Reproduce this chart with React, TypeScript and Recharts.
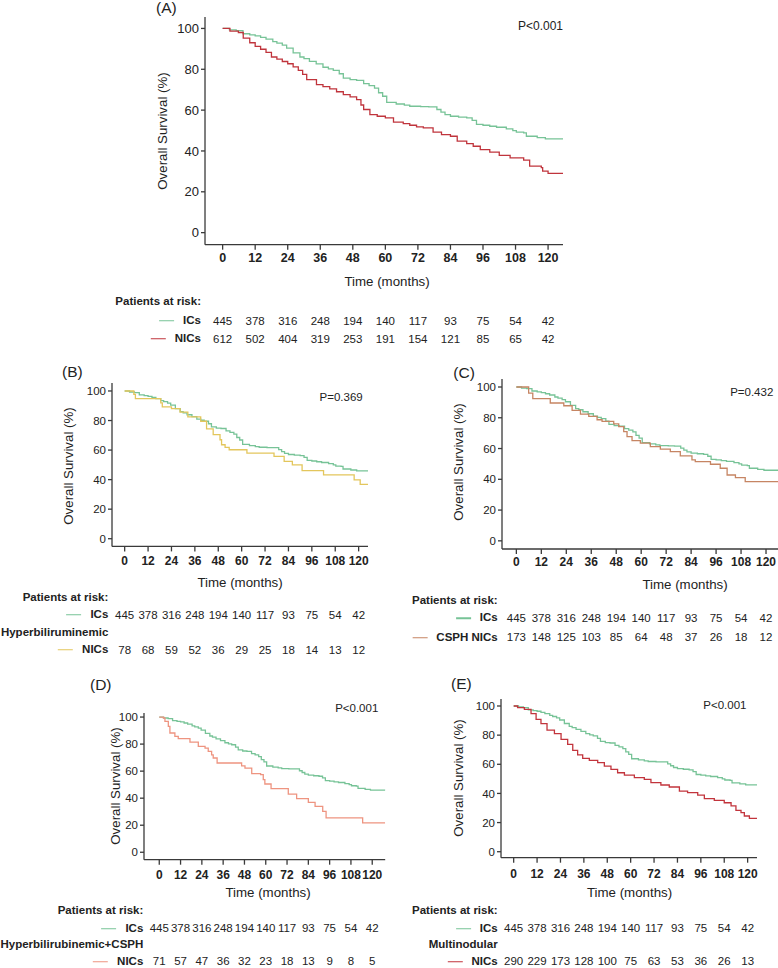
import React from "react";
import { LineChart, Line, XAxis, YAxis } from "recharts";

// x ticks (months) and y ticks (%)
const monthTicks = [0, 12, 24, 36, 48, 60, 72, 84, 96, 108, 120];
const survivalTicks = [0, 20, 40, 60, 80, 100];

// ICs (same group in every panel)
const icsMonths = [0, 2.5, 5, 7.5, 10, 12, 14, 16, 18.5, 20, 22, 23.6, 26, 28.5, 30, 32, 34.5, 37, 39, 40.8, 43, 44.5, 47, 49.4, 52, 54, 56, 57.5, 59, 60.5, 64, 67, 69, 73, 76, 79, 80.5, 82, 84, 87, 90, 92, 93.6, 96, 98.5, 101, 104.6, 107, 108.3, 111, 112, 116, 119, 127.3];
const icsSurvival = [100, 99.3, 98.9, 97.4, 96.8, 96.4, 95.6, 94.8, 93.5, 92.8, 91.8, 90.4, 88, 86, 85.2, 83.9, 82.6, 81, 80.2, 79.5, 77.8, 75.7, 74.9, 74.6, 73, 72, 70.8, 68.5, 66.8, 63.8, 63, 62.4, 61.9, 61.7, 61.6, 60.3, 59, 57.8, 57, 56.6, 56.2, 55, 53, 52.6, 52.1, 51.6, 50.8, 50, 49.2, 48.9, 47.2, 46.5, 45.9, 45.6];

// (A) NICs
const nicsMonths = [0, 2.7, 5.8, 7.6, 10, 12, 14, 16, 18, 20, 22, 24, 26, 27.9, 29.5, 31, 34.6, 37, 39.5, 42, 44.5, 47, 49.4, 51, 52, 54.3, 57, 60, 63, 66.6, 69, 71.5, 74, 77.6, 80.7, 84, 86.5, 90, 92.4, 95, 98.5, 102, 106, 111, 113.2, 117.5, 118, 120, 125.5];
const nicsSurvival = [100, 98.7, 98, 95.3, 93, 91.2, 89.8, 88.3, 86, 85, 83.8, 82.7, 81.2, 79.5, 77.5, 74.9, 72.5, 71.5, 70.4, 69, 67.6, 66.5, 65.1, 62.5, 60.3, 57.8, 57, 56.2, 54.1, 53.4, 52.6, 51.8, 51.3, 49.2, 48, 47.2, 44.8, 43.6, 42.3, 40.7, 39.4, 37.8, 36.6, 35.5, 32.6, 31.8, 30.1, 29, 29];

// (B) Hyperbiliruminemic NICs
const hyperMonths = [0, 4.7, 5.5, 18.5, 19.3, 24, 28.4, 32.4, 39, 42, 45.4, 48.9, 49.7, 51.5, 53.6, 62.7, 76.6, 81.8, 86, 91, 102, 117.7, 120.8, 124.8];
const hyperSurvival = [100, 97.7, 94.8, 92, 89.3, 88, 85.7, 82.5, 79.5, 74.3, 70.5, 67, 63.6, 61.8, 60.2, 58, 55.7, 52.3, 50, 46.1, 43.2, 39.8, 36.8, 36.8];

// (C) CSPH NICs
const csphMonths = [0, 5.9, 7.9, 16.3, 22.8, 26.8, 30.8, 34.8, 38.8, 41.2, 46.8, 49.2, 51.6, 53.2, 55.6, 59.6, 64.4, 69.2, 74, 78.8, 84.4, 86, 93.3, 98, 101.3, 105.3, 110, 127];
const csphSurvival = [100, 96, 92.4, 89.6, 87.8, 84.8, 82.4, 80.9, 78.7, 77.6, 76, 74.3, 71, 67.8, 65.2, 63.5, 61.3, 59.6, 58, 55.2, 52.6, 51.5, 49.8, 47.2, 42.8, 41.1, 38.5, 38.5];

// (D) Hyperbilirubinemic+CSPH NICs
const hcMonths = [0, 2.3, 3.2, 5.1, 6, 8.8, 10.7, 17.3, 22, 25.8, 27.6, 29.5, 30.4, 32.6, 46.4, 48.3, 52.1, 57.1, 58.6, 59.5, 63, 72.7, 77.4, 84, 87.8, 92.1, 94, 114.6, 127.3];
const hcSurvival = [100, 99.3, 96.8, 93.1, 88.2, 85.7, 84, 81.5, 78.3, 77, 74.6, 72, 69.7, 66, 63.9, 62.2, 58.1, 57.4, 53.7, 50.5, 47, 43, 39.7, 36.9, 34, 30.3, 25.4, 21.7, 21.7];

// (E) Multinodular NICs
const multiMonths = [0, 2, 5.5, 8.9, 11.5, 14, 17.1, 20.9, 24.3, 27.7, 30.3, 32.8, 35.4, 38.8, 43.1, 46.5, 49.9, 53.3, 56.8, 61.9, 67, 70.4, 75.5, 79.8, 85, 89.2, 94.4, 97.8, 102.9, 108, 111.5, 114, 116.6, 118.3, 120.9, 124.8];
const multiSurvival = [100, 98.9, 97.7, 94.7, 90.8, 87.9, 83.5, 81, 77.1, 73.7, 69.6, 66.4, 64.1, 62.7, 61.1, 58.8, 56.5, 54.2, 52.6, 50.8, 49.7, 47.4, 45.8, 44.4, 41.6, 40.5, 38.9, 36.4, 35.2, 33.6, 31.4, 28.4, 26.8, 24.5, 22.9, 22.9];

// patients at risk
const riskIcs = [445, 378, 316, 248, 194, 140, 117, 93, 75, 54, 42];
const riskNics = [612, 502, 404, 319, 253, 191, 154, 121, 85, 65, 42];
const riskHyper = [78, 68, 59, 52, 36, 29, 25, 18, 14, 13, 12];
const riskCsph = [173, 148, 125, 103, 85, 64, 48, 37, 26, 18, 12];
const riskHc = [71, 57, 47, 36, 32, 23, 18, 13, 9, 8, 5];
const riskMulti = [290, 229, 173, 128, 100, 75, 63, 53, 36, 26, 13];

const panelTitles = ["(A)", "(B)", "(C)", "(D)", "(E)"];
const pValues = ["P<0.001", "P=0.369", "P=0.432", "P<0.001", "P<0.001"];
const groupNames = ["", "Hyperbiliruminemic", "", "Hyperbilirubinemic+CSPH", "Multinodular"];
const nicsLabels = ["NICs", "NICs", "CSPH NICs", "NICs", "NICs"];

const FONT = "'Liberation Sans', Arial, Helvetica, sans-serif";
const INK = "#222";
const AXIS = "#3a3a3a";
const GREEN = "#77c397";
const colors = ["#c0343c", "#e3c65c", "#c68563", "#ee9480", "#c2343c"];

const toPoints = (m: number[], s: number[]) => m.map((t, i) => ({ t, s: s[i] }));

const icsPoints = toPoints(icsMonths, icsSurvival);
const nicsSeries = [
  toPoints(nicsMonths, nicsSurvival),
  toPoints(hyperMonths, hyperSurvival),
  toPoints(csphMonths, csphSurvival),
  toPoints(hcMonths, hcSurvival),
  toPoints(multiMonths, multiSurvival),
];
const nicsRisk = [riskNics, riskHyper, riskCsph, riskHc, riskMulti];

type Layout = {
  plot: { l: number; t: number; r: number; b: number };
  xDomain: [number, number];
  yDomain: [number, number];
  big: boolean;
  title: [number, number];
  p: [number, number];
  yLabel: [number, number];
  xLabel: [number, number];
  labelRight: number;
  header: number;
  group: number;
  icsDy: number;
  nicsDy: number;
  tickDy: number;
};

const layouts: Layout[] = [
  { plot: { l: 205, t: 17.3, r: 563, b: 245 }, xDomain: [-6.5, 125.5], yDomain: [-5.9, 105.6], big: true,
    title: [156, 7.5], p: [563, 26], yLabel: [162.5, 131], xLabel: [387, 281.5], labelRight: 201, header: 302, group: 0, icsDy: 76, nicsDy: 94, tickDy: 13 },
  { plot: { l: 111.7, t: 383.3, r: 367.7, b: 546.7 }, xDomain: [-6.5, 124.8], yDomain: [-5.2, 105.4], big: false,
    title: [62, 371.7], p: [362.7, 398.3], yLabel: [69, 466], xLabel: [240, 583.3], labelRight: 108.3, header: 598.3, group: 632.7, icsDy: 68.3, nicsDy: 103.3, tickDy: 14.3 },
  { plot: { l: 501.7, t: 379.3, r: 778, b: 549.3 }, xDomain: [-6.9, 125.9], yDomain: [-5.3, 105.2], big: false,
    title: [453.3, 373.3], p: [773.3, 393.3], yLabel: [459, 462], xLabel: [685, 585], labelRight: 497.7, header: 601, group: 0, icsDy: 69, nicsDy: 88.4, tickDy: 13 },
  { plot: { l: 143.8, t: 713.3, r: 385, b: 860 }, xDomain: [-8.6, 127.3], yDomain: [-5.5, 103], big: false,
    title: [90, 685], p: [378.3, 709], yLabel: [116, 786], xLabel: [268, 892.5], labelRight: 143.3, header: 911, group: 945, icsDy: 68.5, nicsDy: 101.5, tickDy: 15 },
  { plot: { l: 501.3, t: 699.3, r: 757.3, b: 858 }, xDomain: [-6.5, 124.8], yDomain: [-4.1, 104.8], big: false,
    title: [451, 684.3], p: [746.5, 706], yLabel: [459, 778], xLabel: [629.5, 892.5], labelRight: 497.7, header: 911, group: 945, icsDy: 70.5, nicsDy: 103.5, tickDy: 16 },
];

const Label = ({ x, y, text, size, bold, align = "left" }: any) => (
  <div
    style={{
      position: "absolute",
      left: x,
      top: y,
      transform: align === "right" ? "translate(-100%, -50%)" : align === "center" ? "translate(-50%, -50%)" : "translate(0, -50%)",
      fontSize: size,
      fontWeight: bold ? "bold" : "normal",
      fontFamily: FONT,
      color: INK,
      whiteSpace: "nowrap",
      lineHeight: 1,
    }}
  >
    {text}
  </div>
);

const RowLabel = ({ x, y, text, color }: any) => (
  <div
    style={{
      position: "absolute",
      left: x,
      top: y,
      transform: "translate(-100%, -50%)",
      display: "flex",
      alignItems: "center",
      fontSize: 11.5,
      fontWeight: "bold",
      fontFamily: FONT,
      color: INK,
      whiteSpace: "nowrap",
      lineHeight: 1,
    }}
  >
    <span style={{ display: "inline-block", width: 15, height: 1.2, background: color, marginRight: 9 }} />
    {text}
  </div>
);

const Y_AXIS_W = 50;

function Panel({ i }: { i: number }) {
  const L = layouts[i];
  const chartLeft = L.plot.l - Y_AXIS_W;
  const chartTop = L.plot.t - 4;
  const chartW = L.plot.r - chartLeft + 4;
  const xAxisH = L.nicsDy + 12;
  const chartH = L.plot.b - chartTop + xAxisH;
  const axisY = L.plot.b - chartTop;

  const renderTick = (props: any) => {
    const { x, payload } = props;
    const k = monthTicks.indexOf(payload.value);
    return (
      <g>
        <text x={x} y={axisY + L.tickDy} textAnchor="middle" dominantBaseline="central" fontFamily={FONT}
          fontWeight="bold" fontSize={L.big ? 12.5 : 12} fill={INK}>
          {payload.value}
        </text>
        <text x={x} y={axisY + L.icsDy} textAnchor="middle" dominantBaseline="central" fontFamily={FONT}
          fontSize={11.5} fill={INK}>
          {riskIcs[k]}
        </text>
        <text x={x} y={axisY + L.nicsDy} textAnchor="middle" dominantBaseline="central" fontFamily={FONT}
          fontSize={11.5} fill={INK}>
          {nicsRisk[i][k]}
        </text>
      </g>
    );
  };

  return (
    <>
      <div style={{ position: "absolute", left: chartLeft, top: chartTop }}>
        <LineChart width={chartW} height={chartH} margin={{ top: 4, right: 4, bottom: 0, left: 0 }}>
          <XAxis
            type="number"
            dataKey="t"
            domain={L.xDomain}
            ticks={monthTicks}
            interval={0}
            allowDataOverflow
            height={xAxisH}
            tickSize={5}
            axisLine={{ stroke: AXIS, strokeWidth: 1.3 }}
            tickLine={{ stroke: AXIS, strokeWidth: 1.3 }}
            tick={renderTick}
          />
          <YAxis
            type="number"
            domain={L.yDomain}
            ticks={survivalTicks}
            interval={0}
            allowDataOverflow
            width={Y_AXIS_W}
            tickSize={4}
            tickMargin={2}
            axisLine={{ stroke: AXIS, strokeWidth: 1.3 }}
            tickLine={{ stroke: AXIS, strokeWidth: 1.3 }}
            tick={{ fontSize: L.big ? 13 : 11.5, fill: INK, fontFamily: FONT }}
          />
          <Line data={icsPoints} dataKey="s" type="stepAfter" stroke={GREEN} strokeWidth={1.3} dot={false} isAnimationActive={false} />
          <Line data={nicsSeries[i]} dataKey="s" type="stepAfter" stroke={colors[i]} strokeWidth={1.3} dot={false} isAnimationActive={false} />
        </LineChart>
      </div>
      <Label x={L.title[0]} y={L.title[1]} text={panelTitles[i]} size={15.5} />
      <Label x={L.p[0]} y={L.p[1]} text={pValues[i]} size={L.big ? 12 : 11.5} align="right" />
      <div
        style={{
          position: "absolute",
          left: L.yLabel[0],
          top: L.yLabel[1],
          transform: "translate(-50%, -50%) rotate(-90deg)",
          fontSize: 13.3,
          fontFamily: FONT,
          color: INK,
          whiteSpace: "nowrap",
          lineHeight: 1,
        }}
      >
        Overall Survival (%)
      </div>
      <Label x={L.xLabel[0]} y={L.xLabel[1]} text="Time (months)" size={13.3} align="center" />
      <Label x={L.labelRight} y={L.header} text="Patients at risk:" size={11.5} bold align="right" />
      <RowLabel x={L.labelRight} y={L.plot.b + L.icsDy} text="ICs" color={GREEN} />
      {groupNames[i] && <Label x={L.labelRight} y={L.group} text={groupNames[i]} size={11.5} bold align="right" />}
      <RowLabel x={L.labelRight} y={L.plot.b + L.nicsDy} text={nicsLabels[i]} color={colors[i]} />
    </>
  );
}

export default function App() {
  return (
    <div
      style={{
        position: "absolute",
        left: 0,
        top: 0,
        width: 778,
        height: 968,
        overflow: "hidden",
        background: "#fff",
        fontFamily: FONT,
      }}
    >
      {layouts.map((_, i) => (
        <Panel key={i} i={i} />
      ))}
    </div>
  );
}
